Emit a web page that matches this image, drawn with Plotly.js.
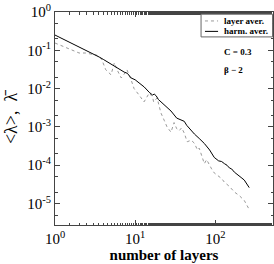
<!DOCTYPE html>
<html><head><meta charset="utf-8">
<script src="https://cdn.plot.ly/plotly-3.0.1.min.js"></script>
<style>html,body{margin:0;padding:0;background:#fff}</style>
</head><body><div id="chart" style="width:274px;height:264px"></div>
<script>
const layerX = [1, 1.41, 2.0, 2.4, 2.8, 3.3, 3.8, 4.3, 5.0, 5.5, 6.0, 6.7, 7.3, 7.9, 8.9, 9.7, 11.2, 12.9, 14, 15, 16.5, 17, 18.8, 21, 23, 25, 28, 30.6, 33, 35.5, 38, 41, 44.6, 50, 54.6, 60, 63, 68, 73, 78, 84, 90, 97, 110, 120, 130, 150, 173, 200, 230, 250, 265];
const layerY = [0.155, 0.115, 0.085, 0.085, 0.08, 0.075, 0.06, 0.031, 0.023, 0.047, 0.03, 0.019, 0.024, 0.031, 0.017, 0.010, 0.0068, 0.0045, 0.006, 0.0077, 0.006, 0.0045, 0.0057, 0.0023, 0.0015, 0.001, 0.00073, 0.0013, 0.0009, 0.0008, 0.00095, 0.00069, 0.00041, 0.00045, 0.00038, 0.00025, 0.00028, 0.00018, 0.00011, 0.00014, 0.0001, 0.00008, 0.000063, 0.00005, 0.000045, 0.000036, 0.000028, 0.00002, 0.000016, 0.000012, 0.000009, 0.000007];
const harmX = [1, 1.5, 2, 2.5, 3, 3.55, 4, 4.7, 5.2, 5.95, 6.5, 7.3, 8, 8.9, 10, 11.2, 13, 15, 16.5, 17.3, 18.3, 19.5, 22, 25, 28, 33, 37, 41, 44, 47, 55, 63, 73, 85, 97, 110, 120, 130, 140, 150, 160, 173, 185, 200, 215, 230, 250, 265];
const harmY = [0.25, 0.165, 0.125, 0.098, 0.08, 0.067, 0.058, 0.047, 0.041, 0.034, 0.031, 0.027, 0.025, 0.019, 0.017, 0.014, 0.011, 0.008, 0.0068, 0.0072, 0.0065, 0.0052, 0.0042, 0.0033, 0.0026, 0.0017, 0.0015, 0.0014, 0.0011, 0.00093, 0.00065, 0.0005, 0.00037, 0.00025, 0.00016, 0.00013, 0.000125, 0.00011, 0.0001, 0.000085, 0.00008, 0.000066, 0.00006, 0.000052, 0.000046, 0.000041, 0.000032, 0.000026];
const xTickVals = [1, 10, 100];
const xTickText = ['10<sup>0</sup>', '10<sup>1</sup>', '10<sup>2</sup>'];
const yTickVals = [1, 0.1, 0.01, 0.001, 0.0001, 0.00001];
const yTickText = ['10<sup>0</sup>', '10<sup>-1</sup>', '10<sup>-2</sup>', '10<sup>-3</sup>', '10<sup>-4</sup>', '10<sup>-5</sup>'];
const seriesNames = ['layer aver.', 'harm. aver.'];
const paramLabels = ['C = 0.3', 'β − 2'];

const serif = 'Liberation Serif, Times New Roman, serif';
const styles = [
  {color: '#999', width: 1, dash: 'dot'},
  {color: '#000', width: 1}
];
const traces = [
  {x: layerX, y: layerY, name: seriesNames[0], mode: 'lines', line: styles[0]},
  {x: harmX, y: harmY, name: seriesNames[1], mode: 'lines', line: styles[1]}
];
const axisCommon = {
  type: 'log', showgrid: false, zeroline: false, showline: true, linecolor: '#444', linewidth: 1,
  mirror: 'ticks', ticks: 'inside', ticklen: 5, tickcolor: '#444',
  minor: {ticks: 'inside', ticklen: 2.5, tickcolor: '#444', showgrid: false},
  tickfont: {family: serif, size: 15, color: '#000'}
};
// custom compact legend (paper coords)
const legRows = [0.958, 0.909];
const shapes = [
  {type: 'rect', xref: 'paper', yref: 'paper', x0: 0.67, x1: 0.998, y0: 0.883, y1: 0.99,
    line: {color: '#666', width: 1}, fillcolor: '#fff', layer: 'above'}
];
const annotations = [];
seriesNames.forEach((n, i) => {
  shapes.push({type: 'line', xref: 'paper', yref: 'paper', x0: 0.688, x1: 0.748, y0: legRows[i], y1: legRows[i],
    line: styles[i], layer: 'above'});
  annotations.push({xref: 'paper', yref: 'paper', x: 0.765, y: legRows[i], xanchor: 'left', yanchor: 'middle',
    showarrow: false, text: '<b>' + n + '</b>', font: {family: serif, size: 9, color: '#000'}});
});
annotations.push(
  {xref: 'paper', yref: 'paper', x: 0.765, y: 0.81, xanchor: 'left', yanchor: 'middle', showarrow: false,
    text: '<b>' + paramLabels[0] + '</b>', font: {family: serif, size: 9, color: '#000'}},
  {xref: 'paper', yref: 'paper', x: 0.765, y: 0.728, xanchor: 'left', yanchor: 'middle', showarrow: false,
    text: '<b>' + paramLabels[1] + '</b>', font: {family: serif, size: 9, color: '#000'}}
);
const layout = {
  width: 274, height: 264,
  margin: {l: 55, r: 1, t: 12, b: 39},
  paper_bgcolor: '#fff', plot_bgcolor: '#fff',
  showlegend: false,
  xaxis: Object.assign({}, axisCommon, {range: [0, 2.72], tickvals: xTickVals, ticktext: xTickText,
    title: {text: '<b>number of layers</b>', font: {family: serif, size: 15, color: '#000'}, standoff: 2}}),
  yaxis: Object.assign({}, axisCommon, {range: [-5.56, 0], tickvals: yTickVals, ticktext: yTickText,
    title: {text: '&lt;λ&gt;,  λ\u0304', font: {family: serif, size: 18, color: '#000'}, standoff: 4}}),
  shapes: shapes,
  annotations: annotations
};
Plotly.newPlot('chart', traces, layout, {staticPlot: true, displayModeBar: false});
</script></body></html>
